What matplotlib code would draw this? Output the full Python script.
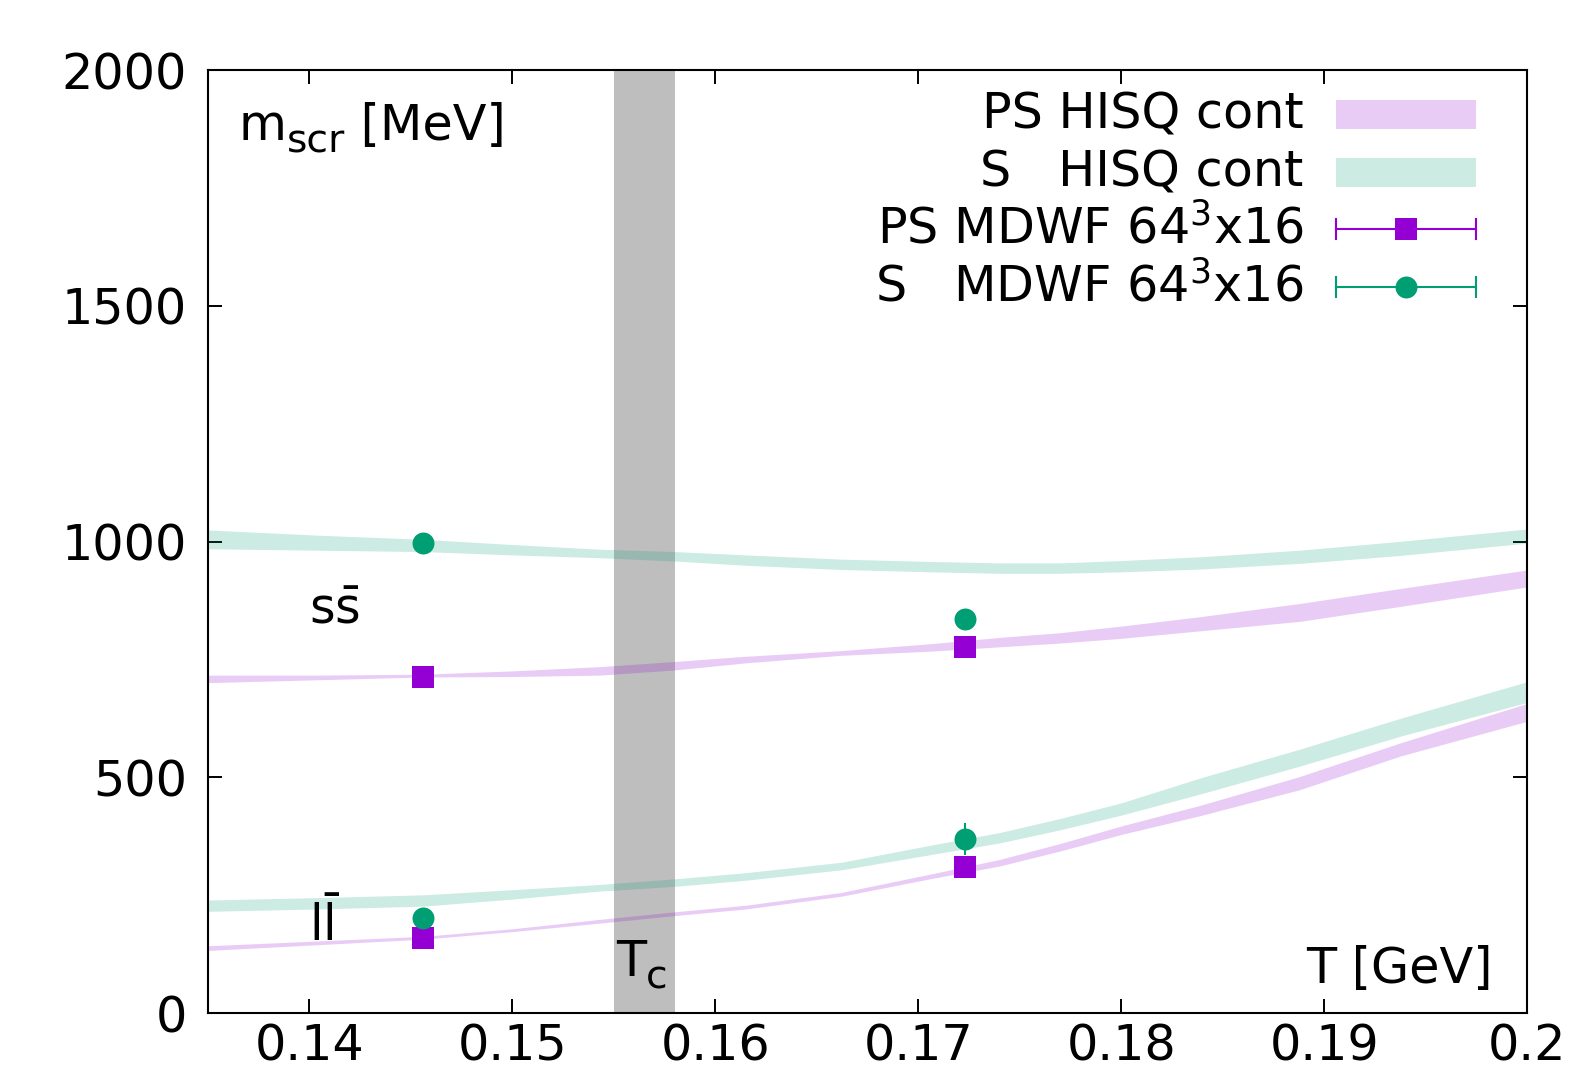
import matplotlib
matplotlib.use("Agg")
import matplotlib.pyplot as plt
from matplotlib.patches import Rectangle
from matplotlib.lines import Line2D
import matplotlib.transforms as mtransforms
import numpy as np

plt.rcParams['font.family'] = ['DejaVu Sans']
plt.rcParams['mathtext.fontset'] = 'dejavusans'

# ---- data ----
T_band = [0.135, 0.1403, 0.1456, 0.1500, 0.1543, 0.1580, 0.1615, 0.1662,
          0.1707, 0.1740, 0.1770, 0.1800, 0.1839, 0.1888, 0.1938, 0.2000]

S_ss_c = [1005, 998, 992, 983, 975, 969, 961, 952, 947, 944, 944, 948, 955, 968, 986, 1012]
S_ss_h = [20, 16, 13, 11, 9, 10, 11, 11, 11, 11, 11, 12, 13, 14, 15, 15]
PS_ss_c = [709, 712, 716, 720, 726, 737, 750, 764, 776, 787, 796, 808, 826, 850, 882, 922]
PS_ss_h = [8, 5, 3, 6, 9, 9, 7, 5, 8, 10, 11, 13, 15, 19, 19, 18]
S_ll_c = [228, 233, 239, 252, 266, 277, 290, 312, 347, 372, 401, 433, 482, 542, 607, 681]
S_ll_h = [12, 12, 12, 10, 7, 8, 8, 8, 10, 11, 12, 13, 17, 18, 19, 22]
PS_ll_c = [138, 149, 160, 176, 195, 211, 225, 252, 291, 319, 352, 388, 430, 488, 560, 638]
PS_ll_h = [5, 4, 3, 3, 4, 4, 4, 4, 5, 7, 8, 9, 11, 14, 14, 19]

T_pts = [0.1456, 0.1456, 0.1723, 0.1723]
PS_pts = [712, 160, 777, 311]
PS_err = [5, 5, 6, 8]
S_pts = [998, 201, 837, 369]
S_err = [5, 6, 6, 34]

Tc_lo, Tc_hi = 0.155, 0.158

legend_labels = ["PS HISQ cont", "S   HISQ cont",
                 r"PS MDWF 64$^{3}$x16", r"S   MDWF 64$^{3}$x16"]

PURPLE = '#9400d3'
GREEN = '#009e73'
FS = 35.5

fig = plt.figure(figsize=(15.73, 10.70), dpi=100)
ax = fig.add_axes([0.1322, 0.0531, 0.9708 - 0.1322, 0.9344 - 0.0531])

ax.axvspan(Tc_lo, Tc_hi, color='#bebebe', lw=0, zorder=1)

def band(c, h, color):
    c = np.array(c, float); h = np.array(h, float)
    ax.fill_between(T_band, c - h, c + h, color=color, alpha=0.2, lw=0, zorder=2)

band(PS_ss_c, PS_ss_h, PURPLE)
band(S_ss_c, S_ss_h, GREEN)
band(PS_ll_c, PS_ll_h, PURPLE)
band(S_ll_c, S_ll_h, GREEN)

ms = 15.8
ax.errorbar(T_pts, PS_pts, yerr=PS_err, fmt='s', color=PURPLE, ms=ms, mew=0,
            elinewidth=1.5, capsize=5, capthick=1.5, zorder=4)
ax.errorbar(T_pts, S_pts, yerr=S_err, fmt='o', color=GREEN, ms=ms, mew=0,
            elinewidth=1.5, capsize=5, capthick=1.5, zorder=5)

ax.set_xlim(0.135, 0.2)
ax.set_ylim(0, 2000)
ax.set_xticks([0.14, 0.15, 0.16, 0.17, 0.18, 0.19, 0.2])
ax.set_xticklabels(["0.14", "0.15", "0.16", "0.17", "0.18", "0.19", "0.2"])
ax.set_yticks([0, 500, 1000, 1500, 2000])
ax.tick_params(direction='in', length=10, width=1.4, top=True, right=True,
               labelsize=FS)
ax.tick_params(axis='y', pad=15)
ax.tick_params(axis='x', pad=7)
for s in ax.spines.values():
    s.set_linewidth(1.5)

renderer = fig.canvas.get_renderer()

def text_with_sub(x, y, main, sub, rest, transform, zorder=6):
    t1 = ax.text(x, y, main, transform=transform, fontsize=FS, ha='left',
                 va='baseline', zorder=zorder)
    w1 = t1.get_window_extent(renderer).width
    tr2 = mtransforms.offset_copy(transform, fig=fig, x=w1 * 72 / fig.dpi, y=-9,
                                  units='points')
    t2 = ax.text(x, y, sub, transform=tr2, fontsize=FS * 0.8, ha='left',
                 va='baseline', zorder=zorder)
    if rest:
        w2 = t2.get_window_extent(renderer).width
        tr3 = mtransforms.offset_copy(transform, fig=fig,
                                      x=(w1 + w2) * 72 / fig.dpi, y=0, units='points')
        ax.text(x, y, rest, transform=tr3, fontsize=FS, ha='left',
                va='baseline', zorder=zorder)

text_with_sub(0.0235, 0.9255, "m", "scr", " [MeV]", ax.transAxes)
text_with_sub(0.1551, 78, "T", "c", None, ax.transData)
ax.text(0.974, 0.032, "T [GeV]", transform=ax.transAxes,
        fontsize=FS, ha='right', va='baseline')
ax.text(0.1400, 826, r"$\mathrm{s\bar{s}}$", fontsize=FS, ha='left', va='baseline')
ax.text(0.1400, 153, r"$\mathrm{l\bar{l}}$", fontsize=FS, ha='left', va='baseline')

# legend (manual)
rows = [0.9533, 0.8916, 0.832, 0.7703]
x_txt = 0.8305
x0, x1, xm = 0.8548, 0.9615, 0.9082
for i, lab in enumerate(legend_labels):
    ax.text(x_txt, rows[i], lab, transform=ax.transAxes, fontsize=FS,
            ha='right', va='center')
rh = 29 / 940
for i, col in enumerate([PURPLE, GREEN]):
    ax.add_patch(Rectangle((x0, rows[i] - rh / 2), x1 - x0, rh, transform=ax.transAxes,
                           color=col, alpha=0.2, lw=0, clip_on=False))
capw = 10 / 940
for i, (col, mk) in enumerate([(PURPLE, 's'), (GREEN, 'o')]):
    y = rows[2 + i]
    ax.add_line(Line2D([x0, x1], [y, y], transform=ax.transAxes, color=col, lw=1.5))
    for xx in (x0, x1):
        ax.add_line(Line2D([xx, xx], [y - capw, y + capw], transform=ax.transAxes,
                           color=col, lw=1.5))
    ax.add_line(Line2D([xm], [y], transform=ax.transAxes, color=col, marker=mk,
                       ms=ms, mew=0, lw=0))

fig.savefig("out.png", dpi=100)
